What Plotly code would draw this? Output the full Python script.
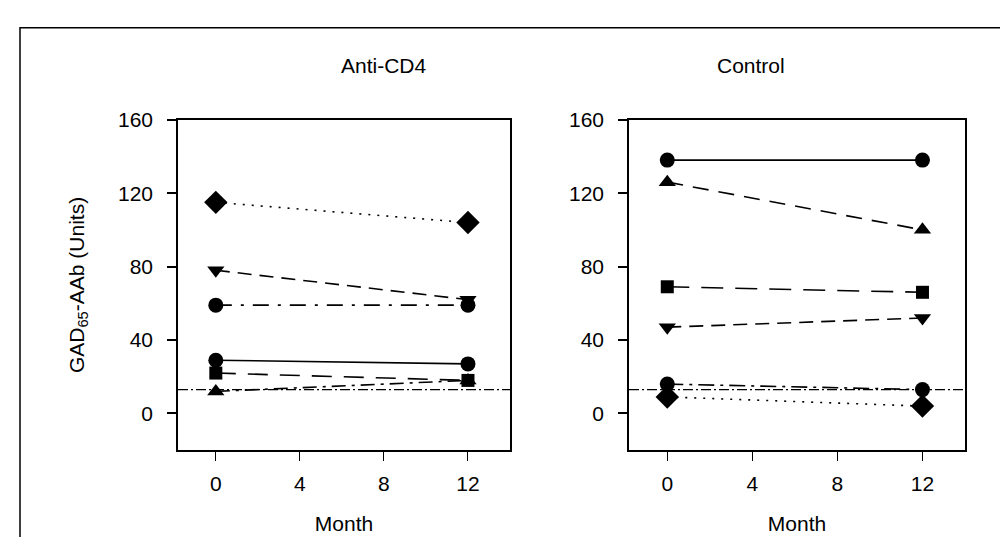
import plotly.graph_objects as go

W, H = 1008, 537

months = [0, 12]

# Anti-CD4 panel series (GAD65-AAb units at month 0 and 12)
anti_diamond = [115, 104]
anti_tri_down = [78, 62]
anti_circle_dd = [59, 59]
anti_circle_solid = [29, 27]
anti_square = [22, 18]
anti_tri_up = [12, 18]

# Control panel series
ctrl_circle_solid = [138, 138]
ctrl_tri_up = [126, 100]
ctrl_square = [69, 66]
ctrl_tri_down = [47, 52]
ctrl_circle_dd = [16, 13]
ctrl_diamond = [9, 4]

threshold = 13

x_ticks = [0, 4, 8, 12]
y_ticks = [0, 40, 80, 120, 160]

FONT = "Liberation Sans, Arial, sans-serif"
FS = 21

def px_x(p):
    return p / W

def px_y(p):
    return 1 - p / H

fig = go.Figure()

def add(xa, ya, y, symbol, size, dash):
    fig.add_trace(go.Scatter(
        x=months, y=y, xaxis=xa, yaxis=ya, mode="lines+markers",
        line=dict(color="black", width=1.6, dash=dash),
        marker=dict(symbol=symbol, size=size, color="black", line=dict(width=0)),
        showlegend=False, cliponaxis=False))

add("x", "y", anti_diamond, "diamond", 18, "2px,7px")
add("x", "y", anti_tri_down, "triangle-down", 15, "14px,8px")
add("x", "y", anti_circle_dd, "circle", 15, "16px,9px,3px,9px")
add("x", "y", anti_circle_solid, "circle", 15, "solid")
add("x", "y", anti_square, "square", 13, "20px,12px")
add("x", "y", anti_tri_up, "triangle-up", 15, "14px,6px,3px,6px")

add("x2", "y2", ctrl_circle_solid, "circle", 15, "solid")
add("x2", "y2", ctrl_tri_up, "triangle-up", 15, "16px,10px")
add("x2", "y2", ctrl_square, "square", 13, "22px,12px")
add("x2", "y2", ctrl_tri_down, "triangle-down", 15, "14px,8px")
add("x2", "y2", ctrl_circle_dd, "circle", 15, "16px,6px,3px,6px")
add("x2", "y2", ctrl_diamond, "diamond", 18, "2px,7px")

box_top, box_bot = 102, 440
ydom = [px_y(box_bot), px_y(box_top)]

axis_common = dict(
    range=[-1.8, 14], tickvals=x_ticks, ticks="outside", ticklen=9, tickwidth=1,
    tickcolor="black", showline=True, linecolor="black", linewidth=1.5, mirror=True,
    showgrid=False, zeroline=False, tickfont=dict(family=FONT, size=FS, color="black"),
    ticklabelstandoff=5,
    title=dict(text="Month", font=dict(family=FONT, size=FS, color="black"), standoff=22),
)
yaxis_common = dict(
    range=[-20, 160], tickvals=y_ticks, ticks="outside", ticklen=9, tickwidth=1.5,
    tickcolor="black", showline=True, linecolor="black", linewidth=1.5, mirror=True,
    showgrid=False, zeroline=False, tickfont=dict(family=FONT, size=FS, color="black"),
    ticklabelstandoff=10,
    domain=ydom,
)

fig.update_layout(
    width=W, height=H, margin=dict(l=0, r=0, t=0, b=0),
    paper_bgcolor="white", plot_bgcolor="white",
    xaxis=dict(domain=[px_x(170), px_x(502)], anchor="y", **axis_common),
    xaxis2=dict(domain=[px_x(621), px_x(957)], anchor="y2", **axis_common),
    yaxis=dict(anchor="x", title=dict(text="GAD<sub>65</sub>-AAb (Units)",
               font=dict(family=FONT, size=FS, color="black"), standoff=28), **yaxis_common),
    yaxis2=dict(anchor="x2", **yaxis_common),
)

# threshold line in both panels
for xr, yr in [("x domain", "y"), ("x2 domain", "y2")]:
    fig.add_shape(type="line", xref=xr, yref=yr, x0=0, x1=1, y0=threshold, y1=threshold,
                  line=dict(color="black", width=1.2, dash="10px,3px,2px,3px"))

# panel titles
fig.add_annotation(text="Anti-CD4", xref="paper", yref="paper", x=px_x(331), y=px_y(33),
                   showarrow=False, font=dict(family=FONT, size=FS, color="black"))
fig.add_annotation(text="Control", xref="paper", yref="paper", x=px_x(779), y=px_y(33),
                   showarrow=False, font=dict(family=FONT, size=FS, color="black"))

# outer frame
fig.add_shape(type="rect", xref="paper", yref="paper", x0=px_x(12), x1=px_x(1000),
              y0=-0.05, y1=px_y(8), line=dict(color="black", width=1.5))

fig.write_html("out.html")
